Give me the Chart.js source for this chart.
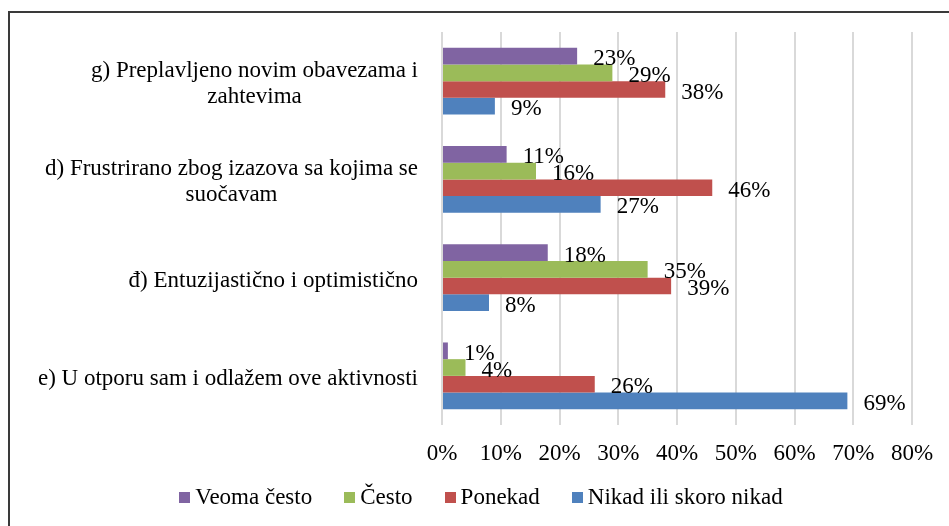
<!DOCTYPE html>
<html>
<head>
<meta charset="utf-8">
<script src="https://cdn.jsdelivr.net/npm/chart.js@4"></script>
<style>
  html, body { margin: 0; padding: 0; background: #fff; overflow: hidden; }
  .frame {
    position: absolute; left: 8px; top: 11px; width: 1000px; height: 600px;
    border-left: 2px solid #3a3a3a; border-top: 2px solid #3a3a3a;
  }
  canvas { position: absolute; left: 0; top: 0; }
  #legend {
    position: absolute; left: 0; top: 484px; width: 962px; height: 26px;
    display: flex; justify-content: center; align-items: center;
    font-family: "Liberation Serif"; font-size: 23px; color: #000;
  }
  #legend .item { display: flex; align-items: center; margin: 0 16px; white-space: nowrap; }
  #legend .box { width: 11px; height: 11px; margin-right: 5px; }
</style>
</head>
<body>
<div class="frame"></div>
<canvas id="chart" width="949" height="526"></canvas>
<div id="legend"></div>
<script>
const categories = [
  ["g) Preplavljeno novim obavezama i", "zahtevima"],
  ["d) Frustrirano zbog izazova sa kojima se", "suočavam"],
  ["đ) Entuzijastično i optimistično"],
  ["e) U otporu sam i odlažem ove aktivnosti"],
];
const seriesNames = ["Veoma često", "Često", "Ponekad", "Nikad ili skoro nikad"];
const veomaCesto = [23, 11, 18, 1];
const cesto = [29, 16, 35, 4];
const ponekad = [38, 46, 39, 26];
const nikad = [9, 27, 8, 69];
const xTicks = [0, 10, 20, 30, 40, 50, 60, 70, 80];
const colors = ["#8064A2", "#9BBB59", "#C0504D", "#4F81BD"];

const FONT = "Liberation Serif";
const SIZE = 23;

// value labels at the end of each bar
const barLabels = {
  id: "barLabels",
  afterDatasetsDraw(chart) {
    const ctx = chart.ctx;
    ctx.save();
    ctx.font = SIZE + "px '" + FONT + "'";
    ctx.fillStyle = "#000";
    ctx.textAlign = "left";
    ctx.textBaseline = "middle";
    chart.data.datasets.forEach((ds, i) => {
      chart.getDatasetMeta(i).data.forEach((bar, j) => {
        ctx.fillText(ds.data[j] + "%", bar.x + 16, bar.y + 3);
      });
    });
    ctx.restore();
  },
};

// category labels: block right aligned, lines centred inside the block
const catLabels = {
  id: "catLabels",
  afterDraw(chart) {
    const ctx = chart.ctx;
    const y = chart.scales.y;
    const right = y.right - 24;
    const lh = 26;
    ctx.save();
    ctx.font = SIZE + "px '" + FONT + "'";
    ctx.fillStyle = "#000";
    ctx.textAlign = "center";
    ctx.textBaseline = "middle";
    categories.forEach((lines, i) => {
      const w = Math.max(...lines.map((l) => ctx.measureText(l).width));
      const cy = y.getPixelForTick(i) + 3;
      const top = cy - ((lines.length - 1) * lh) / 2;
      lines.forEach((l, k) => ctx.fillText(l, right - w / 2, top + k * lh));
    });
    ctx.restore();
  },
};

const seriesData = [veomaCesto, cesto, ponekad, nikad];

new Chart(document.getElementById("chart"), {
  type: "bar",
  data: {
    labels: categories,
    datasets: seriesNames.map((name, i) => ({
      label: name,
      data: seriesData[i],
      backgroundColor: colors[i],
      borderWidth: 0,
      categoryPercentage: 0.68,
      barPercentage: 1.0,
    })),
  },
  options: {
    indexAxis: "y",
    responsive: false,
    animation: false,
    layout: { padding: { top: 32, right: 37, bottom: 50, left: 0 } },
    scales: {
      x: {
        min: 0,
        max: 80,
        afterBuildTicks: (s) => { s.ticks = xTicks.map((v) => ({ value: v })); },
        afterFit: (s) => { s.height = 51; },
        grid: { color: "#d9d9d9", lineWidth: 2, drawTicks: false },
        border: { display: false },
        ticks: {
          padding: 15,
          color: "#000",
          font: { family: FONT, size: SIZE },
          callback: (v) => v + "%",
        },
      },
      y: {
        afterFit: (s) => { s.width = 442; },
        grid: { display: false },
        border: { display: false },
        ticks: { display: false },
      },
    },
    plugins: {
      legend: { display: false },
      tooltip: { enabled: false },
    },
  },
  plugins: [barLabels, catLabels],
});

const legend = document.getElementById("legend");
seriesNames.forEach((name, i) => {
  const item = document.createElement("div");
  item.className = "item";
  item.innerHTML = `<span class="box" style="background:${colors[i]}"></span><span>${name}</span>`;
  legend.appendChild(item);
});
</script>
</body>
</html>
